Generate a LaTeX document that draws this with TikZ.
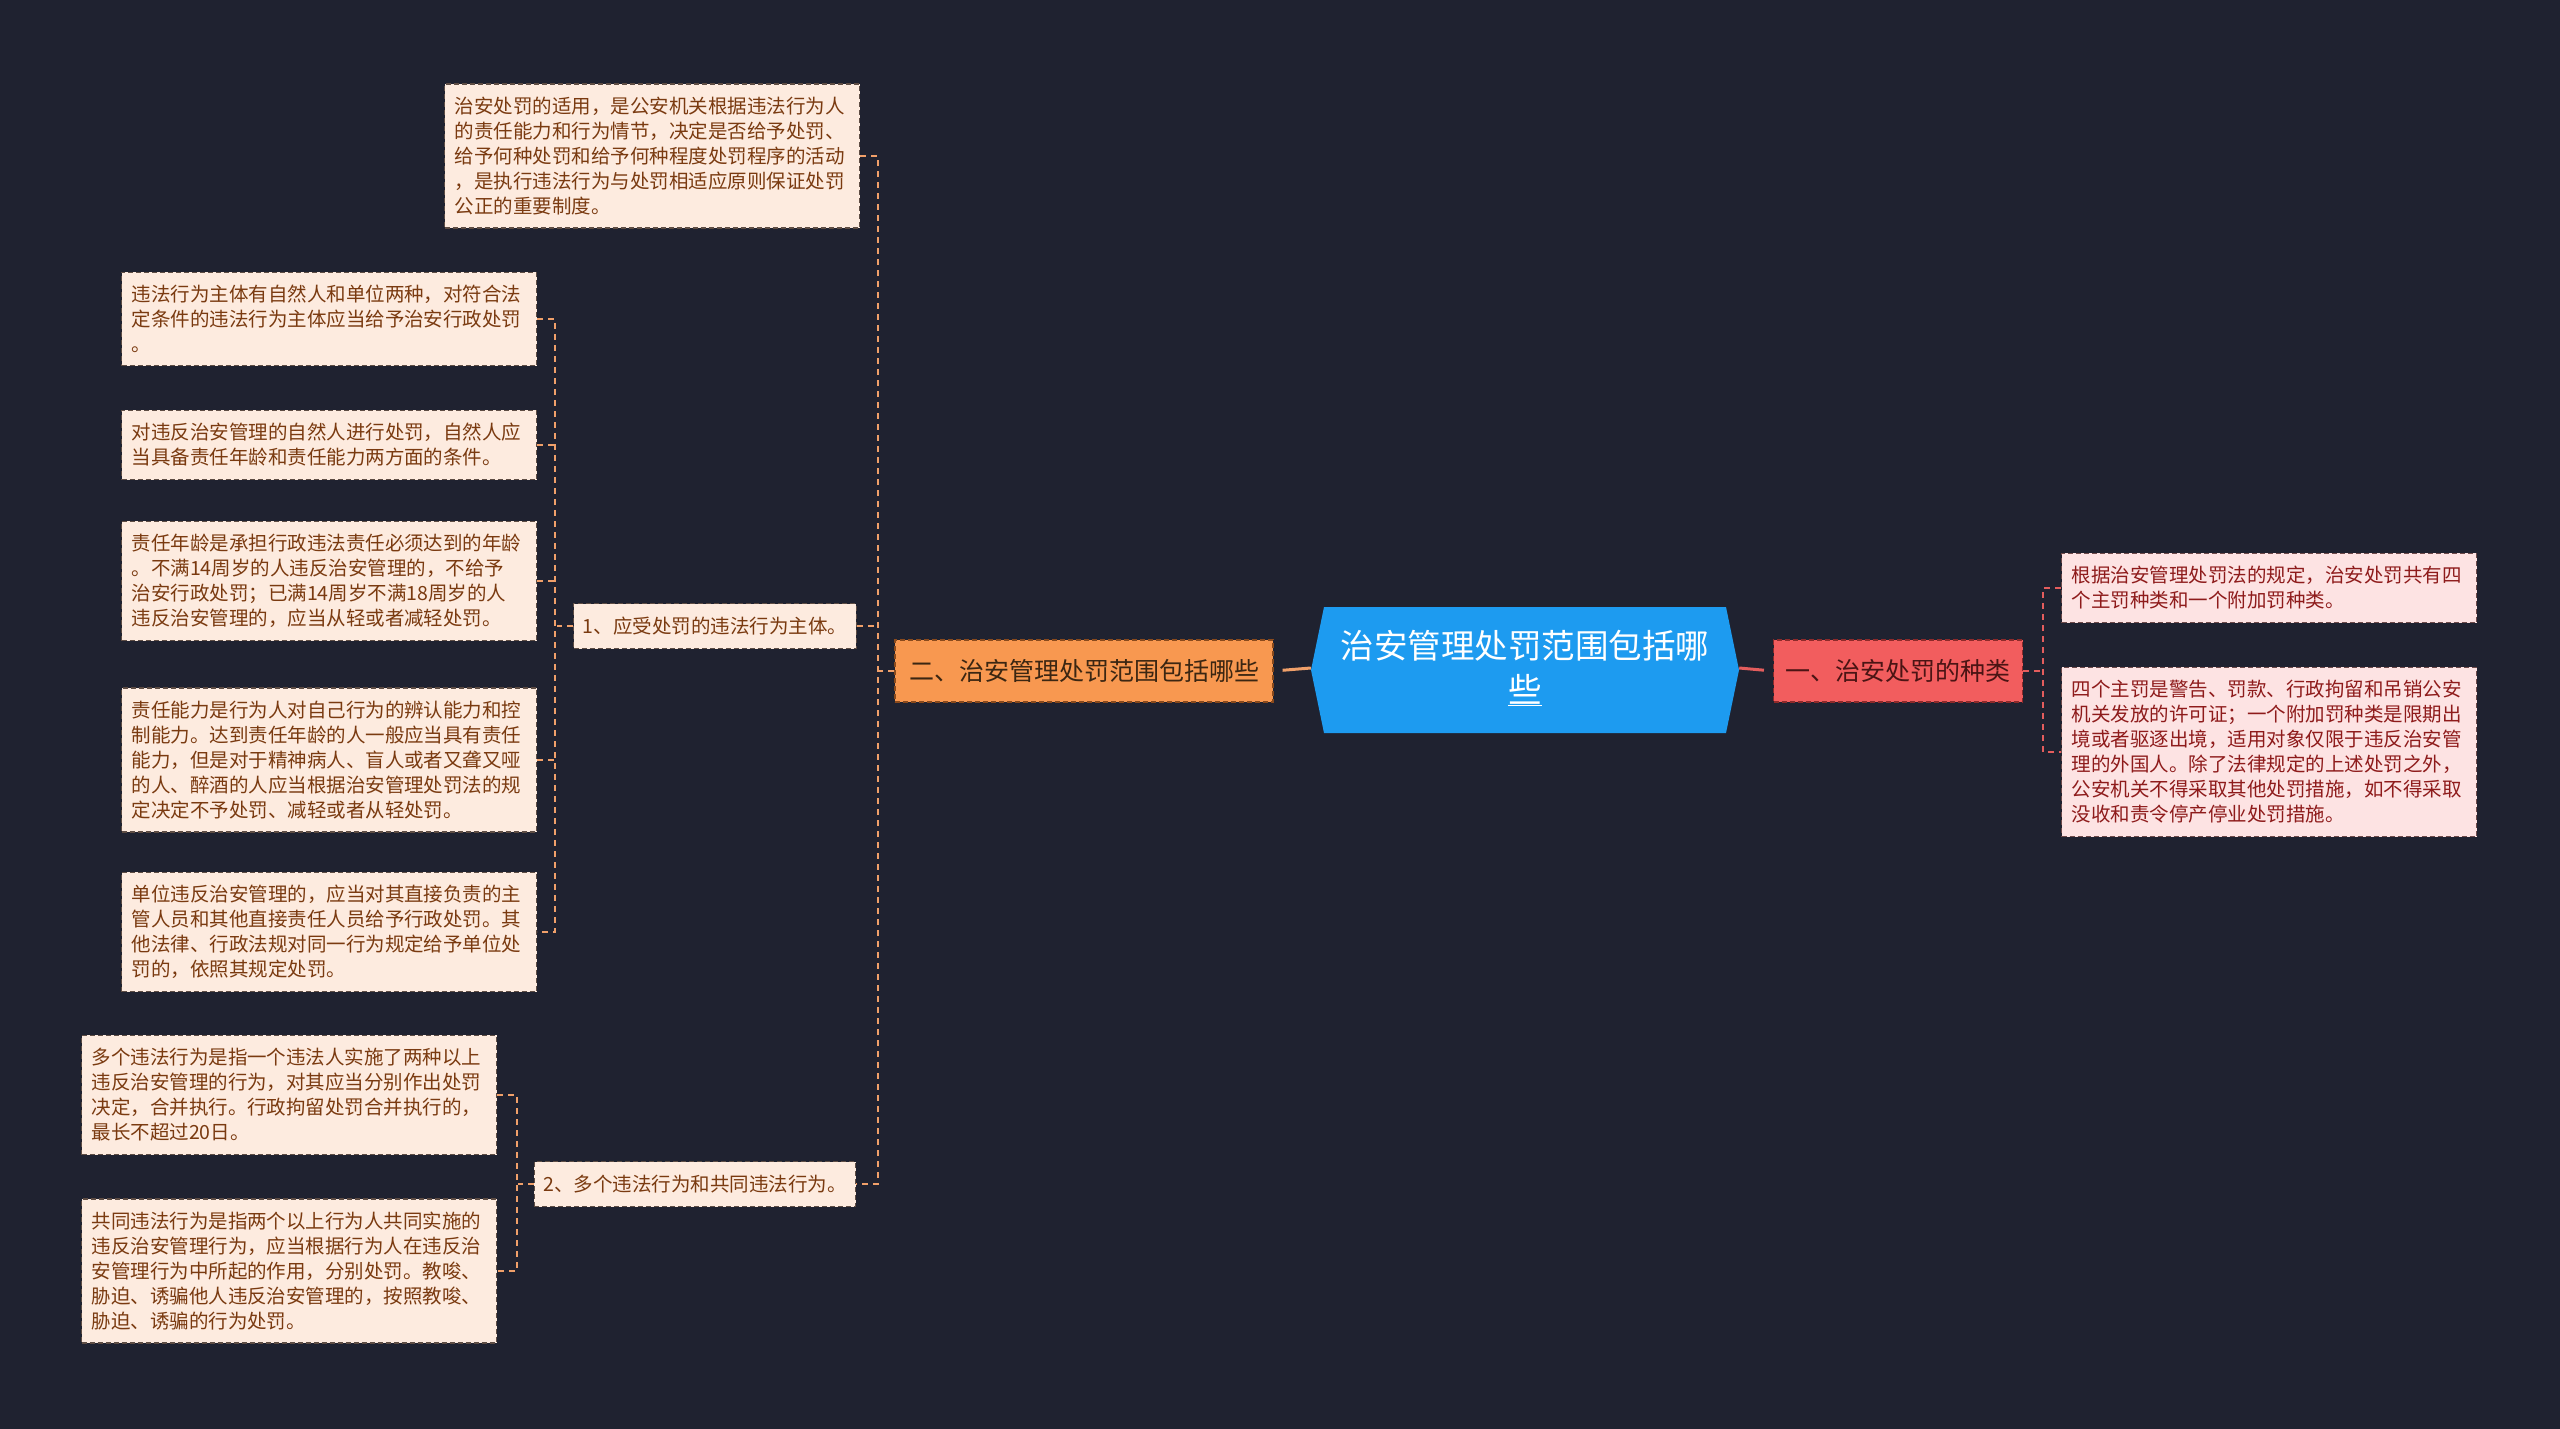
\documentclass[tikz,border=0pt]{standalone}
\usepackage{fontspec}
\setmainfont{Noto Sans CJK SC}
\definecolor{bgnavy}{HTML}{1F2230}
\definecolor{rootblue}{HTML}{1D9BF0}
\definecolor{korange}{HTML}{F89850}
\definecolor{korangeline}{HTML}{8A4A1C}
\definecolor{korangetext}{HTML}{3B2612}
\definecolor{kred}{HTML}{F25D5E}
\definecolor{kredline}{HTML}{8E2A2A}
\definecolor{kredtext}{HTML}{4B1414}
\definecolor{leaffill}{HTML}{FDEBDF}
\definecolor{leaftext}{HTML}{7A3A10}
\definecolor{leafline}{HTML}{5E4D44}
\definecolor{pinkfill}{HTML}{FDE3E3}
\definecolor{pinktext}{HTML}{8E1B1B}
\definecolor{pinkline}{HTML}{6E4A4A}
\definecolor{lineorange}{HTML}{F0A06A}
\definecolor{linered}{HTML}{E35D5D}
\begin{document}
\begin{tikzpicture}[x=1pt, y=-1pt,
  every node/.style={inner sep=0pt},
  rootbox/.style={minimum width=428pt, minimum height=126pt, text width=380pt, align=center, text=white, font=\fontsize{33.5}{44}\selectfont},
  keyo/.style={draw=korangeline, fill=korange, text=korangetext, dash pattern=on 5pt off 3pt, line width=1.2pt, minimum height=62pt, inner xsep=14pt, font=\fontsize{25}{30}\selectfont},
  keyr/.style={draw=kredline, fill=kred, text=kredtext, dash pattern=on 5pt off 3pt, line width=1.2pt, minimum height=62pt, inner xsep=12pt, font=\fontsize{25}{30}\selectfont},
  sub/.style={draw=leafline, fill=leaffill, text=leaftext, dash pattern=on 5pt off 3pt, line width=1.2pt, minimum height=45pt, inner xsep=9pt, font=\fontsize{19.5}{25}\selectfont},
  leaf/.style={draw=leafline, fill=leaffill, text=leaftext, dash pattern=on 5pt off 3pt, line width=1.2pt, text width=395pt, align=left, inner xsep=10pt, inner ysep=13pt, font=\fontsize{19.5}{25}\selectfont},
  pleaf/.style={leaf, draw=pinkline, fill=pinkfill, text=pinktext},
  lconn/.style={draw=lineorange, line width=1.6pt, dash pattern=on 6pt off 5pt},
  rconn/.style={draw=linered, line width=1.6pt, dash pattern=on 6pt off 5pt}]
% Background
\fill[bgnavy] (0,0) rectangle (2560,1429);
\fill[rootblue] (1311,670) -- (1324,607) -- (1726,607) -- (1739,670) -- (1726,733) -- (1324,733) -- cycle;
% Nodes
\node[rootbox] (root) at (1525,668) {治安管理处罚范围包括哪\\\underline{些}};
\node[keyr] (k1) at (1898,671) {一、治安处罚的种类};
\node[keyo] (k2) at (1084,671) {二、治安管理处罚范围包括哪些};
\node[pleaf] (r1) at (2269,588) {根据治安管理处罚法的规定，治安处罚共有四\\个主罚种类和一个附加罚种类。};
\node[pleaf] (r2) at (2269,752) {四个主罚是警告、罚款、行政拘留和吊销公安\\机关发放的许可证；一个附加罚种类是限期出\\境或者驱逐出境，适用对象仅限于违反治安管\\理的外国人。除了法律规定的上述处罚之外，\\公安机关不得采取其他处罚措施，如不得采取\\没收和责令停产停业处罚措施。};
\node[leaf] (t0) at (652,156) {治安处罚的适用，是公安机关根据违法行为人\\的责任能力和行为情节，决定是否给予处罚、\\给予何种处罚和给予何种程度处罚程序的活动\\，是执行违法行为与处罚相适应原则保证处罚\\公正的重要制度。};
\node[sub] (s1) at (715,626) {1、应受处罚的违法行为主体。};
\node[sub] (s2) at (695,1184) {2、多个违法行为和共同违法行为。};
\node[leaf] (l1a) at (329,319) {违法行为主体有自然人和单位两种，对符合法\\定条件的违法行为主体应当给予治安行政处罚\\。};
\node[leaf] (l1b) at (329,445) {对违反治安管理的自然人进行处罚，自然人应\\当具备责任年龄和责任能力两方面的条件。};
\node[leaf] (l1c) at (329,581) {责任年龄是承担行政违法责任必须达到的年龄\\。不满14周岁的人违反治安管理的，不给予\\治安行政处罚；已满14周岁不满18周岁的人\\违反治安管理的，应当从轻或者减轻处罚。};
\node[leaf] (l1d) at (329,760) {责任能力是行为人对自己行为的辨认能力和控\\制能力。达到责任年龄的人一般应当具有责任\\能力，但是对于精神病人、盲人或者又聋又哑\\的人、醉酒的人应当根据治安管理处罚法的规\\定决定不予处罚、减轻或者从轻处罚。};
\node[leaf] (l1e) at (329,932) {单位违反治安管理的，应当对其直接负责的主\\管人员和其他直接责任人员给予行政处罚。其\\他法律、行政法规对同一行为规定给予单位处\\罚的，依照其规定处罚。};
\node[leaf] (l2a) at (289,1095) {多个违法行为是指一个违法人实施了两种以上\\违反治安管理的行为，对其应当分别作出处罚\\决定，合并执行。行政拘留处罚合并执行的，\\最长不超过20日。};
\node[leaf] (l2b) at (289,1271) {共同违法行为是指两个以上行为人共同实施的\\违反治安管理行为，应当根据行为人在违反治\\安管理行为中所起的作用，分别处罚。教唆、\\胁迫、诱骗他人违反治安管理的，按照教唆、\\胁迫、诱骗的行为处罚。};
% Edges
\draw[line width=3pt, lineorange, shorten >=9pt] (root.west) -- (k2.east);
\draw[line width=3pt, linered, shorten >=9pt] (root.east) -- (k1.west);
\draw[rconn] (k1.east) -- ++(20,0);
\draw[rconn] (r1.west) -- ++(-18,0) |- (r2.west);
\draw[lconn] (k2.west) -- ++(-16,0);
\draw[lconn] (t0.east) -- ++(18,0) |- (s2.east);
\draw[lconn] (s1.east) -- ++(18,0);
\draw[lconn] (s1.west) -- ++(-16,0);
\draw[lconn] (l1a.east) -- ++(18,0) |- (l1e.east);
\draw[lconn] (l1b.east) -- ++(18,0);
\draw[lconn] (l1c.east) -- ++(18,0);
\draw[lconn] (l1d.east) -- ++(18,0);
\draw[lconn] (s2.west) -- ++(-16,0);
\draw[lconn] (l2a.east) -- ++(20,0) |- (l2b.east);
\end{tikzpicture}
\end{document}
